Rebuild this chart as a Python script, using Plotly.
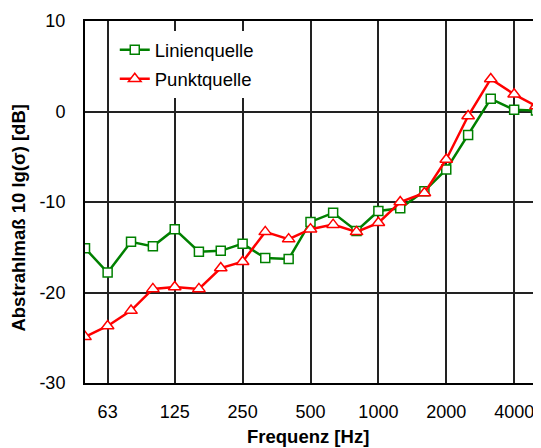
import plotly.graph_objects as go

freq = [50, 63, 80, 100, 125, 160, 200, 250, 315, 400, 500, 630, 800, 1000,
        1250, 1600, 2000, 2500, 3150, 4000, 5000]
linienquelle = [-15.1, -17.8, -14.4, -14.9, -13.0, -15.5, -15.4, -14.6, -16.2, -16.3,
                -12.2, -11.2, -13.2, -11.0, -10.7, -8.8, -6.4, -2.6, 1.4, 0.2, 0.1]
punktquelle = [-24.9, -23.7, -22.0, -19.6, -19.4, -19.6, -17.3, -16.6, -13.3, -14.1,
               -13.0, -12.5, -13.3, -12.3, -10.0, -9.0, -5.3, -0.5, 3.6, 1.9, 0.6]
x_ticks = [63, 125, 250, 500, 1000, 2000, 4000]
y_ticks = [10, 0, -10, -20, -30]

FONT = "Liberation Sans, Arial, sans-serif"
GREEN = "#008000"
RED = "#FF0000"

fig = go.Figure()
fig.add_trace(go.Scatter(
    x=freq, y=linienquelle, name="Linienquelle", mode="lines+markers",
    legendgroup="a",
    line=dict(color=GREEN, width=2.5),
    marker=dict(symbol="square", size=9, color="white", line=dict(color=GREEN, width=1.5)),
))
fig.add_trace(go.Scatter(
    x=freq, y=punktquelle, name="Punktquelle", mode="lines+markers",
    legendgroup="b",
    line=dict(color=RED, width=2.5),
    marker=dict(symbol="triangle-up", size=11, color="white", line=dict(color=RED, width=1.5)),
))

# page body has an 8px default margin; figure is sized/margined to compensate
fig.update_layout(
    width=533, height=440,
    margin=dict(l=77, r=3, t=12, b=65),
    paper_bgcolor="white", plot_bgcolor="white",
    font=dict(family=FONT, size=18, color="black"),
    showlegend=True,
    legend=dict(x=0.066, y=0.972, xanchor="left", yanchor="top",
                bgcolor="white", borderwidth=0, tracegroupgap=2,
                font=dict(size=18.5)),
    xaxis=dict(
        type="log", range=[1.69897, 3.69897],
        tickvals=x_ticks, ticktext=[str(v) for v in x_ticks],
        showgrid=True, gridcolor="#222222", gridwidth=1.5,
        showline=True, linecolor="black", linewidth=2, mirror=True,
        ticks="", ticklabelstandoff=11,
        zeroline=False,
    ),
    yaxis=dict(
        range=[-30, 10], tickvals=y_ticks, ticktext=[str(v) for v in y_ticks],
        showgrid=True, gridcolor="#222222", gridwidth=1.5,
        showline=True, linecolor="black", linewidth=2, mirror=True,
        ticks="", ticklabelstandoff=14, zeroline=False,
    ),
    annotations=[
        dict(text="<b>Abstrahlmaß 10 lg(σ) [dB]</b>", textangle=-90,
             xref="paper", yref="paper", x=-0.148, y=0.455,
             xanchor="center", yanchor="middle", showarrow=False,
             font=dict(size=18.5)),
        dict(text="<b>Frequenz [Hz]</b>",
             xref="paper", yref="paper", x=0.495, y=-0.149,
             xanchor="center", yanchor="middle", showarrow=False,
             font=dict(size=18.5)),
    ],
)

fig.write_html("out.html")
